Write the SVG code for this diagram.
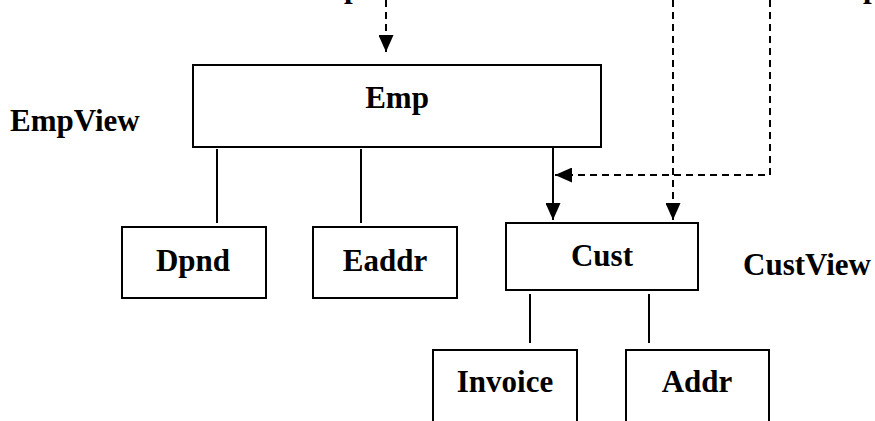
<svg xmlns="http://www.w3.org/2000/svg" width="875" height="421" viewBox="0 0 875 421">
<style>
.box{fill:#fff;stroke:#000;stroke-width:2}
.t{font-family:"Liberation Serif","Times New Roman",serif;font-weight:bold;font-size:31px;fill:#000}
.c{text-anchor:middle}
.ln{fill:none;stroke:#000;stroke-width:2}
.ds{fill:none;stroke:#000;stroke-width:2;stroke-dasharray:7 5}
</style>
<defs>
<marker id="ah" markerUnits="userSpaceOnUse" markerWidth="17" markerHeight="15" refX="17" refY="7.5" orient="auto" viewBox="0 0 17 15">
<path d="M0,0 L17,7.5 L0,15 z" fill="#000"/>
</marker>
</defs>
<rect width="875" height="421" fill="#fff"/>
<text class="t" x="344" y="-3">p</text>
<text class="t" x="863" y="-3">p</text>
<text class="t" x="10" y="131">EmpView</text>
<text class="t" x="743" y="275">CustView</text>
<g id="connectors">
<path class="ds" d="M386,0 V52" marker-end="url(#ah)"/>
<path class="ds" d="M770,0 V175 H555" marker-end="url(#ah)"/>
<path class="ds" d="M673,0 V220" marker-end="url(#ah)"/>
<path class="ln" d="M553,147 V220" marker-end="url(#ah)"/>
<path class="ln" d="M217,149 V223"/>
<path class="ln" d="M361,149 V223"/>
<path class="ln" d="M530,294 V343"/>
<path class="ln" d="M649,294 V343"/>
</g>
<g id="emp"><rect class="box" x="193" y="65" width="408" height="82"/><text class="t c" x="397" y="108">Emp</text></g>
<g id="dpnd"><rect class="box" x="122" y="227" width="144" height="71"/><text class="t c" x="193" y="271">Dpnd</text></g>
<g id="eaddr"><rect class="box" x="313" y="227" width="144" height="71"/><text class="t c" x="385" y="271">Eaddr</text></g>
<g id="cust"><rect class="box" x="506" y="223" width="192" height="67"/><text class="t c" x="602" y="266">Cust</text></g>
<g id="invoice"><rect class="box" x="433" y="350" width="144" height="90"/><text class="t c" x="505" y="392">Invoice</text></g>
<g id="addr"><rect class="box" x="626" y="350" width="143" height="90"/><text class="t c" x="697" y="392">Addr</text></g>
</svg>
